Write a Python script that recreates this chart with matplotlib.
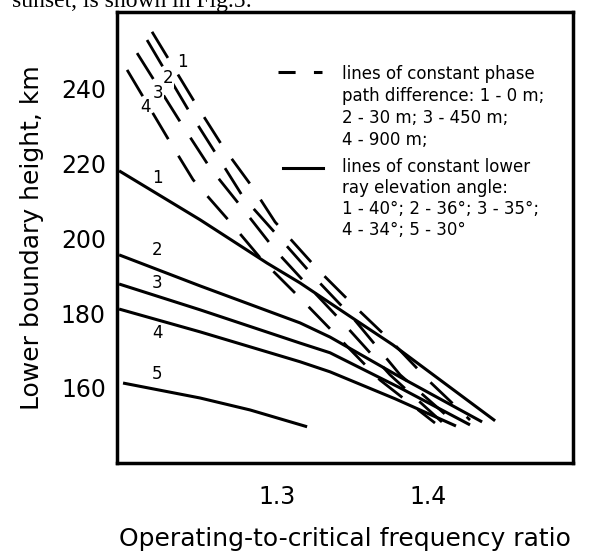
import matplotlib
matplotlib.use("Agg")
import matplotlib.pyplot as plt

# solid lines: constant lower ray elevation angle
solid_x = [
    [1.1954, 1.2490, 1.2934, 1.3152, 1.3470, 1.3768, 1.4444],
    [1.1954, 1.2490, 1.3152, 1.3351, 1.3815, 1.4358],
    [1.1954, 1.2490, 1.3152, 1.3351, 1.3815, 1.4278],
    [1.1954, 1.2490, 1.3152, 1.3351, 1.3781, 1.4185],
    [1.1980, 1.2490, 1.2821, 1.3199],
]
solid_y = [
    [218.1, 205.0, 193.4, 188.1, 179.5, 171.5, 151.2],
    [195.6, 187.3, 177.4, 173.6, 162.9, 150.9],
    [187.8, 180.9, 172.0, 169.4, 160.0, 150.1],
    [181.1, 175.0, 167.0, 164.3, 157.1, 149.8],
    [161.3, 157.3, 154.1, 149.6],
]
solid_labels = ["1", "2", "3", "4", "5"]
solid_label_x = [1.2205, 1.2205, 1.2205, 1.2205, 1.2205]
solid_label_y = [216.2, 196.9, 188.1, 174.7, 163.7]

# dashed lines: constant phase path difference
dash_x = [
    [1.2172, 1.2457, 1.2642, 1.2841, 1.2987, 1.3272, 1.3517, 1.3768, 1.4013, 1.4278],
    [1.2139, 1.2424, 1.2609, 1.2775, 1.2987, 1.3252, 1.3497, 1.3815, 1.4185],
    [1.2073, 1.2371, 1.2556, 1.2768, 1.2987, 1.3199, 1.3437, 1.3748, 1.4113],
    [1.2007, 1.2291, 1.2444, 1.2689, 1.2901, 1.3166, 1.3404, 1.3682, 1.4046],
]
dash_y = [
    [255.3, 236.3, 224.5, 213.5, 204.4, 191.6, 181.7, 172.0, 161.6, 151.4],
    [253.1, 233.6, 221.8, 211.1, 201.5, 189.4, 179.0, 163.5, 150.4],
    [249.6, 230.4, 218.9, 208.2, 196.9, 187.6, 177.4, 163.5, 150.1],
    [245.1, 225.8, 215.7, 204.4, 194.2, 183.5, 173.6, 162.1, 150.6],
]
dash_labels = ["1", "2", "3", "4"]
dash_label_x = [1.2371, 1.2278, 1.2212, 1.2126]
dash_label_y = [247.2, 242.9, 238.9, 235.2]

yticks = [160, 180, 200, 220, 240]
xticks = [1.3, 1.4]
xticklabels = ["1.3", "1.4"]

legend_lines = [
    "lines of constant phase",
    "path difference: 1 - 0 m;",
    "2 - 30 m; 3 - 450 m;",
    "4 - 900 m;",
    "lines of constant lower",
    "ray elevation angle:",
    "1 - 40\u00b0; 2 - 36\u00b0; 3 - 35\u00b0;",
    "4 - 34\u00b0; 5 - 30\u00b0",
]
legend_rows = [74, 96, 118, 140, 167, 188, 209, 230]

W, H = 597, 554
fig = plt.figure(figsize=(W / 100, H / 100), dpi=100)
ax = fig.add_axes([117 / W, 1 - 463 / H, (573 - 117) / W, (463 - 12) / H])

for xs, ys in zip(solid_x, solid_y):
    ax.plot(xs, ys, color="black", lw=2.2, solid_capstyle="butt")
for xs, ys in zip(dash_x, dash_y):
    ax.plot(xs, ys, color="black", lw=2.0, dashes=(11, 7))

for t, x, y in zip(solid_labels, solid_label_x, solid_label_y):
    ax.text(x, y, t, fontsize=12, ha="center", va="center")
for t, x, y in zip(dash_labels, dash_label_x, dash_label_y):
    ax.text(x, y, t, fontsize=12, ha="center", va="center",
            bbox=dict(facecolor="white", edgecolor="none", pad=0.5))

ax.set_xlim(1.194, 1.496)
ax.set_ylim(139.9, 260.6)
ax.set_yticks(yticks)
ax.set_xticks(xticks)
ax.set_xticklabels(xticklabels)
ax.tick_params(length=0, labelsize=17)
ax.tick_params(axis="x", pad=16)
ax.tick_params(axis="y", pad=8)
for s in ax.spines.values():
    s.set_linewidth(2.5)

ax.set_xlabel("Operating-to-critical frequency ratio", fontsize=18, labelpad=13)
ax.set_ylabel("Lower boundary height, km", fontsize=18, labelpad=12)

# legend drawn by hand, like the original
ax.plot([(278 - 117) / 456, (322 - 117) / 456], [1 - (72 - 12) / 451] * 2,
        transform=ax.transAxes, color="black", lw=2.2, dashes=(5.6, 6.0))
ax.plot([(283 - 117) / 456, (323 - 117) / 456], [1 - (168 - 12) / 451] * 2,
        transform=ax.transAxes, color="black", lw=2.2)
for line, yy in zip(legend_lines, legend_rows):
    fig.text(342 / W, 1 - yy / H, line, fontsize=12, va="center", ha="left")

# cropped line of the page text above the figure
fig.text(12 / W, 1 - 7 / H, "sunset, is shown in Fig.5:", fontsize=17,
         family="Liberation Serif", va="baseline", ha="left")

fig.savefig("out.png", dpi=100)
